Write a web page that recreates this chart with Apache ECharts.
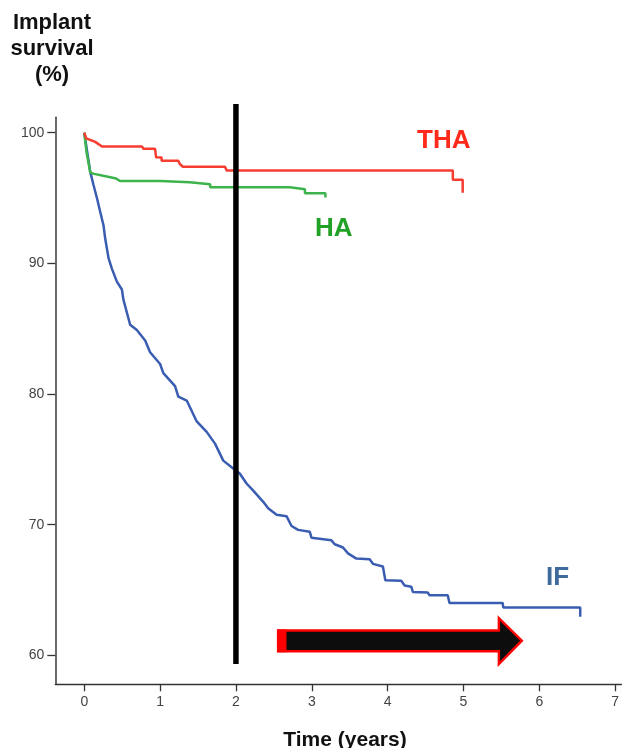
<!DOCTYPE html>
<html>
<head>
<meta charset="utf-8">
<script src="https://cdn.jsdelivr.net/npm/echarts@6/dist/echarts.min.js"></script>
<style>
html,body{margin:0;padding:0;background:#ffffff;}
#chart{width:622px;height:748px;}
</style>
</head>
<body>
<div id="chart"></div>
<script>
// ---- data ----
const xTicks = [0, 1, 2, 3, 4, 5, 6, 7];
const yTicks = [60, 70, 80, 90, 100];

const seriesNames = ['IF', 'HA', 'THA'];

const ifData = [
  [0, 100], [0.013, 100], [0.079, 97.0], [0.122, 96.0], [0.167, 95.0], [0.21, 93.95],
  [0.254, 92.9], [0.276, 91.9], [0.32, 90.4], [0.364, 89.6], [0.43, 88.6], [0.496, 88.0],
  [0.517, 87.2], [0.605, 85.3], [0.693, 84.9], [0.803, 84.1], [0.868, 83.2], [1.0, 82.3],
  [1.043, 81.6], [1.197, 80.6], [1.24, 79.8], [1.351, 79.5], [1.483, 77.9], [1.614, 77.1],
  [1.724, 76.2], [1.833, 74.9], [1.964, 74.3], [2.053, 73.9], [2.14, 73.15], [2.228, 72.6],
  [2.36, 71.75], [2.425, 71.25], [2.536, 70.75], [2.667, 70.65], [2.733, 69.9], [2.82, 69.6],
  [2.974, 69.45], [2.996, 69.0], [3.259, 68.8], [3.303, 68.5], [3.412, 68.25], [3.478, 67.8],
  [3.588, 67.4], [3.763, 67.35], [3.807, 67.0], [3.938, 66.8], [3.97, 65.75], [4.18, 65.7],
  [4.224, 65.35], [4.312, 65.25], [4.333, 64.85], [4.53, 64.8], [4.553, 64.6], [4.793, 64.6],
  [4.816, 64.0], [5.517, 64.0], [5.526, 63.65], [6.54, 63.65], [6.54, 62.95]
];

const haData = [
  [0, 100], [0.03, 98.5], [0.079, 96.95], [0.13, 96.85], [0.25, 96.7], [0.42, 96.5],
  [0.47, 96.3], [1.0, 96.3], [1.0, 96.2], [1.39, 96.2], [1.39, 96.05], [1.66, 96.05],
  [1.66, 95.82], [2.71, 95.82], [2.71, 95.67], [2.91, 95.67], [2.91, 95.36], [3.18, 95.36],
  [3.18, 95.05]
];

const thaData = [
  [0, 100], [0.026, 99.57], [0.145, 99.3], [0.233, 98.95], [0.76, 98.95], [0.78, 98.77],
  [0.934, 98.77], [0.947, 98.12], [1.02, 98.1], [1.02, 97.86], [1.24, 97.86], [1.26, 97.6],
  [1.30, 97.4], [1.855, 97.4], [1.88, 97.1], [4.86, 97.1], [4.86, 96.4], [4.99, 96.4],
  [4.99, 95.4]
];

// annotation anchors (data units)
const labelAnchors = { THA: [4.74, 99.4], HA: [3.29, 92.65], IF: [6.24, 65.95] };
const refLine = { x: 2, yTop: 102.2, yBottom: 59.33 };
const arrowShape = { xLeft: 2.556, xRed: 2.667, xHead: 5.467, xTip: 5.77,
  shaftTop: 61.90, shaftBottom: 60.31, headTop: 62.84, headBottom: 59.33, tipY: 61.12 };

// ---- styling ----
const colors = { THA: '#f73d30', HA: '#3cb44b', IF: '#3a5db2' };
const labelColors = { THA: '#ff2a1a', HA: '#21a126', IF: '#3f6a9c' };

const chart = echarts.init(document.getElementById('chart'), null, { renderer: 'canvas' });

const dataMap = { IF: ifData, HA: haData, THA: thaData };

const lineSeries = seriesNames.map(n => ({
  name: n,
  type: 'line',
  data: dataMap[n],
  showSymbol: false,
  symbol: 'none',
  smooth: false,
  lineStyle: { color: colors[n], width: 2.5 },
  z: 2
}));

const option = {
  animation: false,
  backgroundColor: '#ffffff',
  grid: { left: 55.3, right: 0, top: 117.3, bottom: 63.7, containLabel: false },
  xAxis: {
    type: 'value',
    min: -0.382,
    max: 7.083,
    splitLine: { show: false },
    axisLine: { show: true, onZero: false, lineStyle: { color: '#333', width: 1.3 } },
    axisTick: { show: true, customValues: xTicks, length: 7, lineStyle: { color: '#333', width: 1.3 } },
    axisLabel: { show: true, customValues: xTicks, margin: 11, fontSize: 14,
      color: '#444', fontFamily: 'Liberation Sans, Arial, sans-serif' }
  },
  yAxis: {
    type: 'value',
    min: 57.78,
    max: 101.18,
    splitLine: { show: false },
    axisLine: { show: true, onZero: false, lineStyle: { color: '#444', width: 1.6 } },
    axisTick: { show: true, customValues: yTicks, length: 8, lineStyle: { color: '#333', width: 1.3 } },
    axisLabel: { show: true, customValues: yTicks, margin: 11, fontSize: 14,
      color: '#444', fontFamily: 'Liberation Sans, Arial, sans-serif' }
  },
  graphic: [
    { type: 'text', x: 52, y: 23, z: 10,
      style: { text: 'Implant', fill: '#111', font: 'bold 22px "Liberation Sans", Arial, sans-serif',
        textAlign: 'center', textVerticalAlign: 'middle' } },
    { type: 'text', x: 52, y: 48.5, z: 10,
      style: { text: 'survival', fill: '#111', font: 'bold 22px "Liberation Sans", Arial, sans-serif',
        textAlign: 'center', textVerticalAlign: 'middle' } },
    { type: 'text', x: 52, y: 75, z: 10,
      style: { text: '(%)', fill: '#111', font: 'bold 22px "Liberation Sans", Arial, sans-serif',
        textAlign: 'center', textVerticalAlign: 'middle' } },
    { type: 'text', x: 345, y: 740, z: 10,
      style: { text: 'Time (years)', fill: '#111', font: 'bold 21px "Liberation Sans", Arial, sans-serif',
        textAlign: 'center', textVerticalAlign: 'middle' } }
  ],
  series: lineSeries.concat([
    {
      name: 'ref',
      type: 'custom',
      clip: false,
      z: 5,
      data: [[refLine.x]],
      renderItem: function (params, api) {
        const p1 = api.coord([refLine.x, refLine.yTop]);
        const p2 = api.coord([refLine.x, refLine.yBottom]);
        return { type: 'line', shape: { x1: p1[0], y1: p1[1], x2: p2[0], y2: p2[1] },
          style: { stroke: '#000', lineWidth: 5.5 } };
      }
    },
    {
      name: 'arrow',
      type: 'custom',
      clip: false,
      z: 6,
      data: [[arrowShape.xLeft]],
      renderItem: function (params, api) {
        const a = arrowShape;
        const pts = [
          [a.xLeft, a.shaftTop], [a.xHead, a.shaftTop], [a.xHead, a.headTop], [a.xTip, a.tipY],
          [a.xHead, a.headBottom], [a.xHead, a.shaftBottom], [a.xLeft, a.shaftBottom]
        ].map(p => api.coord(p));
        const r1 = api.coord([a.xLeft, a.shaftTop]);
        const r2 = api.coord([a.xRed, a.shaftBottom]);
        return { type: 'group', children: [
          { type: 'polygon', shape: { points: pts },
            style: { fill: '#0d0d0d', stroke: '#ff0000', lineWidth: 2.4, lineJoin: 'miter' } },
          { type: 'rect', shape: { x: r1[0] - 1, y: r1[1] - 1, width: r2[0] - r1[0] + 1, height: r2[1] - r1[1] + 2 },
            style: { fill: '#ff0000' } }
        ] };
      }
    },
    {
      name: 'labels',
      type: 'custom',
      clip: false,
      z: 7,
      data: ['THA', 'HA', 'IF'].map(n => [labelAnchors[n][0], labelAnchors[n][1], n]),
      renderItem: function (params, api) {
        const n = ['THA', 'HA', 'IF'][params.dataIndex];
        const p = api.coord(labelAnchors[n]);
        return { type: 'text', x: p[0], y: p[1],
          style: { text: n, fill: labelColors[n], font: 'bold 26px "Liberation Sans", Arial, sans-serif',
            textAlign: 'center', textVerticalAlign: 'middle' } };
      }
    }
  ])
};

chart.setOption(option);
</script>
</body>
</html>
